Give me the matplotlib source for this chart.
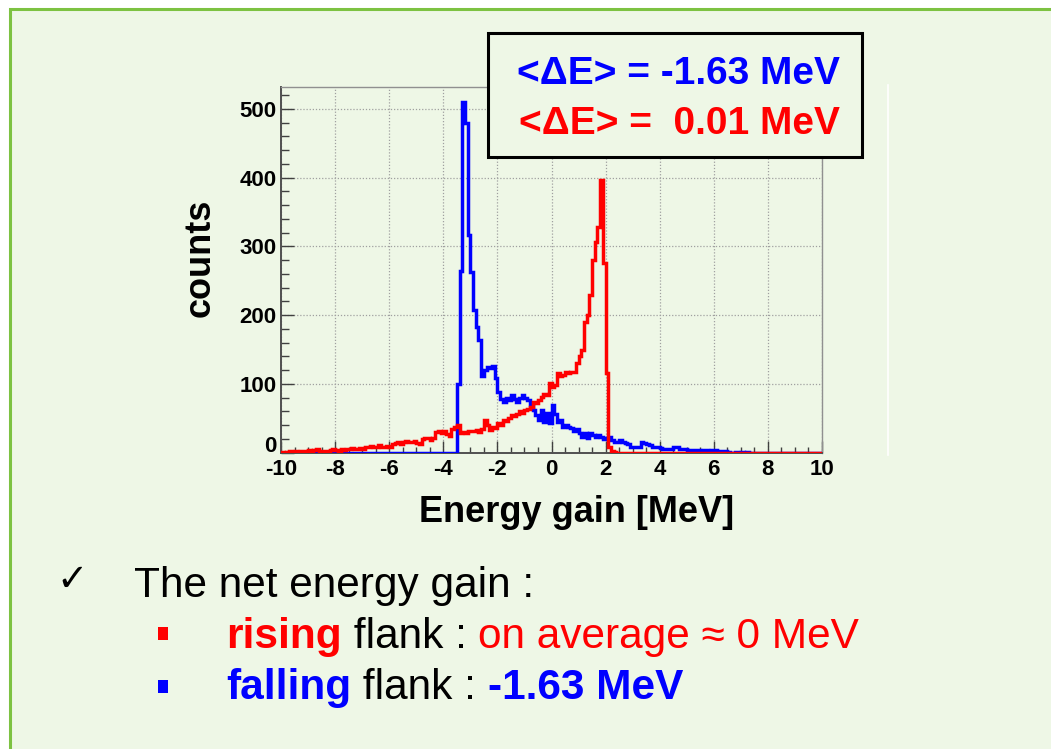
import numpy as np
import matplotlib
matplotlib.use('Agg')
import matplotlib.pyplot as plt
import matplotlib.transforms as mtransforms
from matplotlib.patches import Rectangle
from matplotlib.lines import Line2D
from matplotlib.ticker import MultipleLocator, FixedLocator, FixedFormatter

W, H = 1051, 749

# ---------------- data (counts per 0.1 MeV bin) ----------------
BIN_WIDTH = 0.1
X_MIN, X_MAX = -10.0, 10.0
RED_START = -10.0     # first bin (left edge) of red_counts
BLUE_START = -3.6     # first bin (left edge) of blue_counts

red_counts = [
    1, 0, 1, 2, 1, 2, 1, 2, 2, 3,
    4, 3, 4, 5, 3, 3, 2, 3, 4, 5,
    4, 3, 5, 4, 6, 5, 7, 6, 5, 7,
    6, 8, 9, 10, 8, 9, 11, 9, 8, 10,
    9, 13, 14, 15, 13, 16, 17, 15, 16, 17,
    14, 13, 20, 21, 22, 19, 21, 30, 31, 29,
    32, 27, 25, 34, 38, 40, 28, 30, 29, 31,
    32, 31, 33, 30, 35, 48, 40, 33, 38, 36,
    43, 40, 48, 46, 50, 55, 53, 57, 60, 58,
    62, 64, 67, 74, 72, 77, 81, 86, 84, 101,
    96, 98, 116, 111, 113, 118, 116, 118, 117, 130,
    140, 150, 190, 200, 229, 280, 307, 329, 397, 276,
    116, 9, 3, 1, 0,
]

blue_counts = [
    0, 100, 265, 510, 480, 317, 263, 208, 183, 164,
    111, 120, 125, 123, 126, 108, 89, 78, 74, 80,
    76, 84, 78, 74, 79, 84, 80, 76, 69, 62,
    55, 48, 62, 45, 58, 43, 69, 57, 45, 47,
    38, 40, 37, 36, 31, 34, 29, 23, 28, 21,
    29, 26, 23, 26, 23, 20, 22, 23, 18, 16,
    16, 18, 16, 14, 12, 9, 9, 9, 9, 16,
    14, 12, 11, 9, 9, 8, 7, 6, 6, 5,
    6, 9, 8, 6, 5, 5, 4, 4, 4, 4,
    4, 3, 4, 4, 3, 4, 4, 3, 2, 2,
    2, 1, 0, 0, 1, 0, 1, 0, 1, 0,
]

x_ticks = [-10, -8, -6, -4, -2, 0, 2, 4, 6, 8, 10]
x_tick_labels = ['-10', '-8', '-6', '-4', '-2', '0', '2', '4', '6', '8', '10']
y_ticks = [0, 100, 200, 300, 400, 500]
y_tick_labels = ['0', '100', '200', '300', '400', '500']
Y_MAX = 532

x_title = 'Energy gain [MeV]'
y_title = 'counts'
mean_blue_text = '<\u0394E> = -1.63 MeV'
mean_red_text = '<\u0394E> =  0.01 MeV'

# ---------------- styles ----------------
BG = '#EEF7E6'
BORDER = '#7DC242'
BLUE = '#0000FF'
RED = '#FF0000'
FONT = 'Liberation Sans'


def fx(px):
    return px / W


def fy(py):
    return 1 - py / H


fig = plt.figure(figsize=(W / 100, H / 100), dpi=100, facecolor='white')

# slide panel
fig.patches.append(Rectangle((fx(9.5), fy(760)), 1.2, fy(8.5) - fy(760),
                             transform=fig.transFigure, facecolor=BG,
                             edgecolor=BORDER, linewidth=2.2, zorder=-2))
# canvas edge line of the embedded plot
fig.lines.append(Line2D([fx(888), fx(888)], [fy(85), fy(455)], transform=fig.transFigure,
                        color='white', lw=1.2, zorder=-1))

# ---------------- histogram axes ----------------
ax = fig.add_axes([fx(281), fy(452.7), (822 - 281) / W, (452.7 - 87) / H])
ax.set_facecolor('none')

n_bins = int(round((X_MAX - X_MIN) / BIN_WIDTH))
edges = np.round(X_MIN + BIN_WIDTH * np.arange(n_bins + 1), 6)
red_full = np.zeros(n_bins)
i0 = int(round((RED_START - X_MIN) / BIN_WIDTH))
red_full[i0:i0 + len(red_counts)] = red_counts
blue_full = np.zeros(n_bins)
j0 = int(round((BLUE_START - X_MIN) / BIN_WIDTH))
blue_full[j0:j0 + len(blue_counts)] = blue_counts

ax.stairs(blue_full, edges, color=BLUE, lw=2.5, zorder=3)
ax.stairs(red_full, edges, color=RED, lw=2.5, zorder=4)

ax.set_xlim(X_MIN, X_MAX)
ax.set_ylim(0, Y_MAX)

ax.xaxis.set_major_locator(FixedLocator(x_ticks))
ax.xaxis.set_major_formatter(FixedFormatter(x_tick_labels))
ax.yaxis.set_major_locator(FixedLocator(y_ticks))
ax.yaxis.set_major_formatter(FixedFormatter(y_tick_labels))
ax.xaxis.set_minor_locator(MultipleLocator(0.5))
ax.yaxis.set_minor_locator(MultipleLocator(20))

ax.grid(True, which='major', color='#A0A0A0', linestyle=(0, (1, 1.5)), lw=0.9, zorder=1)
ax.tick_params(which='both', direction='in', top=False, right=False,
               color='#404040', width=1.0)
ax.tick_params(axis='y', which='major', length=9.5, pad=3,
               labelsize=16)
ax.tick_params(axis='y', which='minor', length=5.5)
ax.tick_params(axis='x', which='major', length=8.5, pad=4.5, labelsize=16)
ax.tick_params(axis='x', which='minor', length=4.5)
for lab in ax.get_xticklabels() + ax.get_yticklabels():
    lab.set_fontfamily(FONT)
    lab.set_fontweight('bold')

# lift the y "0" label slightly so it sits just above the "-10" x label
fig.canvas.draw()
ylabs = ax.get_yticklabels()
if ylabs:
    ylabs[0].set_transform(ylabs[0].get_transform() +
                           mtransforms.ScaledTranslation(0, 4 / 72, fig.dpi_scale_trans))
    ylabs[0].set_va('bottom')
    ylabs[0].set_transform(ax.get_yaxis_text1_transform(3)[0] +
                           mtransforms.ScaledTranslation(0, -3 / 72, fig.dpi_scale_trans))

for side in ('left', 'bottom'):
    ax.spines[side].set_color('#505050')
    ax.spines[side].set_linewidth(1.4)
for side in ('top', 'right'):
    ax.spines[side].set_color('#909090')
    ax.spines[side].set_linewidth(1.0)

# axis titles
fig.text(fx(577), fy(522), x_title, ha='center', va='baseline', fontsize=26,
         fontweight='bold', family=FONT)
fig.text(fx(200), fy(258), y_title, ha='center', va='center', rotation=90,
         fontsize=26, fontweight='bold', family=FONT)

# mean value box
fig.patches.append(Rectangle((fx(488), fy(157)), (862 - 488) / W, (157 - 33) / H,
                             transform=fig.transFigure, facecolor=BG,
                             edgecolor='black', linewidth=2.2, zorder=5))
fig.text(fx(840), fy(84), mean_blue_text, ha='right', va='baseline', fontsize=28,
         fontweight='bold', family=FONT, color=BLUE, zorder=6)
fig.text(fx(840), fy(134), mean_red_text, ha='right', va='baseline', fontsize=28,
         fontweight='bold', family=FONT, color=RED, zorder=6)

# ---------------- bullet text ----------------
renderer = fig.canvas.get_renderer()


def text_width(s, size, weight):
    from matplotlib.font_manager import FontProperties
    fp = FontProperties(family=FONT, size=size, weight=weight)
    w1, _, _ = renderer.get_text_width_height_descent('|' + s + '|', fp, ismath=False)
    w0, _, _ = renderer.get_text_width_height_descent('||', fp, ismath=False)
    return w1 - w0


def write_line(x_px, y_px, pieces, size=30.5):
    x = x_px
    for s, color, weight in pieces:
        fig.text(fx(x), fy(y_px), s, ha='left', va='baseline', fontsize=size,
                 fontweight=weight, family=FONT, color=color)
        x += text_width(s, size, weight)


fig.text(fx(72), fy(581), '\u2713', ha='center', va='center', fontsize=27,
         family='DejaVu Sans', color='black')
write_line(134, 597, [('The net energy gain :', 'black', 'normal')])

fig.patches.append(Rectangle((fx(157.5), fy(640)), 10 / W, 13 / H,
                             transform=fig.transFigure, facecolor=RED, edgecolor='none'))
write_line(226, 648, [('rising', RED, 'bold'), (' flank : ', 'black', 'normal'),
                      ('on average \u2248 0 MeV', RED, 'normal')])

fig.patches.append(Rectangle((fx(157.5), fy(693)), 10 / W, 13 / H,
                             transform=fig.transFigure, facecolor=BLUE, edgecolor='none'))
write_line(226, 699, [('falling', BLUE, 'bold'), (' flank : ', 'black', 'normal'),
                      ('-1.63 MeV', BLUE, 'bold')])

fig.savefig('out.png', dpi=100, facecolor='white')
